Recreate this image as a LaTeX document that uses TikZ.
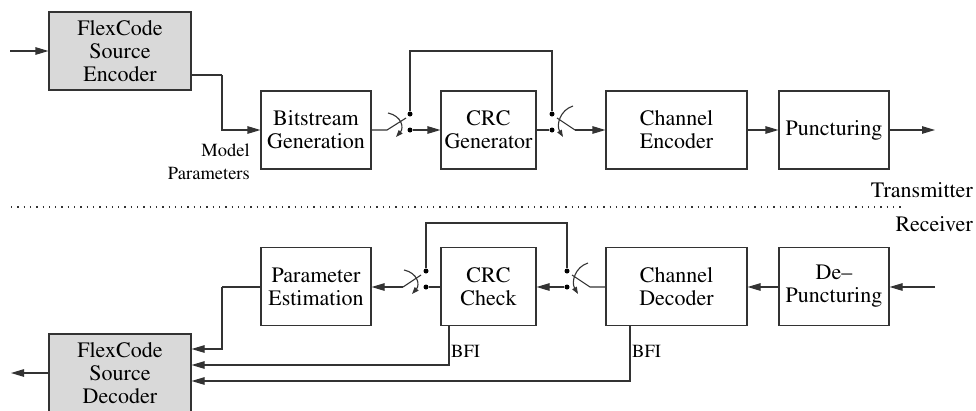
\documentclass[tikz,border=0pt]{standalone}
\usepackage[T1]{fontenc}
\renewcommand{\rmdefault}{ptm}
\usetikzlibrary{arrows.meta}
\definecolor{linec}{gray}{0.2}
\definecolor{boxfill}{gray}{0.85}
\begin{document}
\begin{tikzpicture}[x=1pt,y=-1pt,
  blk/.style={draw=linec,line width=1.1pt,align=center,inner sep=0pt,
    minimum height=78pt,font=\rmfamily\fontsize{22}{23}\selectfont},
  src/.style={blk,fill=boxfill,minimum width=142pt},
  wire/.style={draw=linec,line width=1.1pt},
  flow/.style={wire,-{Triangle[length=13pt,width=7.5pt]}},
  lever/.style={wire,-{Triangle[length=7pt,width=5pt]}},
  pin/.style={circle,fill=black,inner sep=0pt,minimum size=5pt},
  small/.style={font=\rmfamily\fontsize{18.5}{23}\selectfont,inner sep=0pt},
  label/.style={font=\rmfamily\fontsize{22}{23}\selectfont,inner sep=0pt}]
\useasboundingbox (0,0) rectangle (976,410);

% ---------------- transmitter chain ----------------
\node[src] (enc) at (120,51) {FlexCode\\Source\\Encoder};
\node[blk,minimum width=110pt] (bit)  at (316,130)   {Bitstream\\Generation};
\node[blk,minimum width=95pt]  (crcg) at (488.5,130) {CRC\\Generator};
\node[blk,minimum width=141pt] (cenc) at (676.5,130) {Channel\\Encoder};
\node[blk,minimum width=110pt] (punc) at (834,130)   {Puncturing};

\coordinate (tin)  at (10,51);
\coordinate (tout) at (935,130);
\coordinate (mp)   at (222,75);

\draw[flow] (tin) -- (enc.west |- tin);
\draw[wire] (enc.east |- mp) -- (mp);
\draw[flow] (mp) -- (mp |- bit.west) -- (bit.west);
\node[small,align=right,anchor=east] (mpar) at (250,162) {Model\\Parameters};

% switch in front of the CRC generator
\coordinate (sw1) at (387,130);
\coordinate (lv1) at (406,118);
\node[pin] (p1u) at (410,114) {};
\node[pin] (p1d) at (410,130) {};
\draw[wire] (bit.east |- sw1) -- (sw1) -- (lv1);
\draw[lever] (388,113) .. controls (402,116) and (404,128) .. (396,137);
\draw[flow] (p1d) -- (crcg.west |- p1d);

% switch behind the CRC generator
\coordinate (sw2) at (575,130);
\coordinate (lv2) at (557,118);
\node[pin] (p2u) at (552,114) {};
\node[pin] (p2d) at (552,130) {};
\draw[wire] (crcg.east |- p2d) -- (p2d);
\draw[wire] (sw2) -- (lv2);
\draw[lever] (573,106) .. controls (560,110) and (556,125) .. (563,137);
\draw[flow] (sw2) -- (cenc.west |- sw2);

% bypass around the CRC generator
\draw[wire] (p1u) -- (410,51) -- (552,51) -- (p2u);

\draw[flow] (cenc.east) -- (punc.west);
\draw[flow] (punc.east) -- (tout);

% ---------------- separator ----------------
\coordinate (sepl) at (11,207);
\coordinate (sepr) at (903,207);
\draw[linec,line width=1.3pt,dash pattern=on 1.3pt off 5pt] (sepl) -- (sepr);
\node[label,anchor=base east] (tx) at (973,197) {Transmitter};
\node[label,anchor=base east] (rx) at (973,231) {Receiver};

% ---------------- receiver chain ----------------
\node[blk,minimum width=110pt] (pe)     at (316,286.5)   {Parameter\\Estimation};
\node[blk,minimum width=95pt]  (crcc)   at (488.5,286.5) {CRC\\Check};
\node[blk,minimum width=141pt] (cdec)   at (676.5,286.5) {Channel\\Decoder};
\node[blk,minimum width=110pt] (depunc) at (834,286.5)   {De--\\Puncturing};
\node[src] (dec) at (120,373) {FlexCode\\Source\\Decoder};

\coordinate (rin)  at (935,287);
\coordinate (rout) at (11,373);

\draw[flow] (rin) -- (depunc.east |- rin);
\draw[flow] (depunc.west |- rin) -- (cdec.east |- rin);

% switch behind the channel decoder
\coordinate (sw3) at (590,287);
\coordinate (lv3) at (572,275);
\node[pin] (p3u) at (567,271) {};
\node[pin] (p3d) at (567,287) {};
\draw[wire] (cdec.west |- sw3) -- (sw3) -- (lv3);
\draw[lever] (588,263) .. controls (575,267) and (571,282) .. (578,294);
\draw[flow] (p3d) -- (crcc.east |- p3d);

% switch behind the CRC check
\coordinate (sw4) at (403,287);
\coordinate (lv4) at (421,275);
\node[pin] (p4u) at (426,271) {};
\node[pin] (p4d) at (426,287) {};
\draw[wire] (crcc.west |- p4d) -- (p4d);
\draw[wire] (sw4) -- (lv4);
\draw[lever] (404,270) .. controls (418,273) and (420,285) .. (412,294);
\draw[flow] (sw4) -- (pe.east |- sw4);

% bypass around the CRC check
\draw[wire] (p4u) -- (426,223) -- (567,223) -- (p3u);

% outputs into the source decoder
\coordinate (pk) at (222,287);
\draw[wire] (pe.west |- pk) -- (pk);
\draw[flow] (pk) -- (222,349) -- (dec.east |- 0,349);
\coordinate (bfa) at (449,365);
\draw[flow] (crcc.south -| bfa) -- (bfa) -- (dec.east |- bfa);
\coordinate (bfb) at (630,381);
\draw[flow] (cdec.south -| bfb) -- (bfb) -- (dec.east |- bfb);
\node[small,anchor=base west] (bfi1) at (451,357) {BFI};
\node[small,anchor=base west] (bfi2) at (632,357) {BFI};

\draw[flow] (dec.west |- rout) -- (rout);
\end{tikzpicture}
\end{document}
